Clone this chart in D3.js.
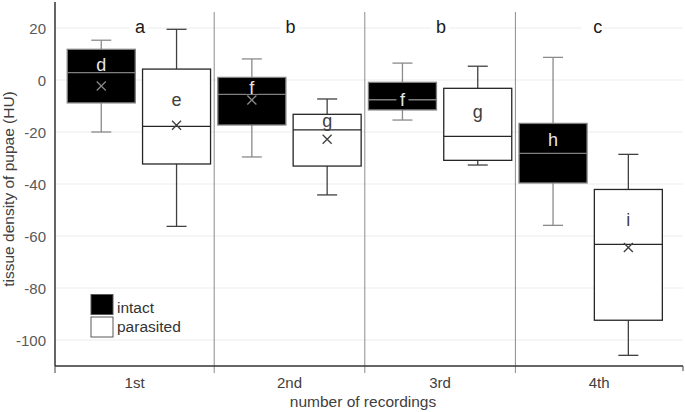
<!DOCTYPE html>
<html>
<head>
<meta charset="utf-8">
<script src="https://cdn.jsdelivr.net/npm/d3@7"></script>
<style>
  body { margin: 0; background: #fff; }
  text { font-family: "Liberation Sans", Arial, sans-serif; }
</style>
</head>
<body>
<div id="chart"></div>
<script>
// data
const categories = ["1st", "2nd", "3rd", "4th"];
const series = ["intact", "parasited"];
const groupLetters = ["a", "b", "b", "c"];
const yTicks = [20, 0, -20, -40, -60, -80, -100];

const intactMin = [-20, -29.6, -15.4, -55.9];
const intactQ1 = [-8.8, -17.3, -11.5, -39.6];
const intactMedian = [2.8, -5.5, -7.6, -28.2];
const intactQ3 = [11.8, 1.0, -0.9, -16.7];
const intactMax = [15.3, 8.1, 6.5, 8.7];
const intactMean = [-2.3, -7.7, -7.4, -23.5];
const intactLetters = ["d", "f", "f", "h"];
const intactLetterAt = [5.8, -2.9, -7.6, -23.1];

const parasitedMin = [-56.3, -44.2, -32.7, -105.9];
const parasitedQ1 = [-32.3, -33.1, -30.9, -92.4];
const parasitedMedian = [-17.8, -19.2, -21.7, -63.2];
const parasitedQ3 = [4.2, -13.2, -3.2, -42.1];
const parasitedMax = [19.5, -7.3, 5.3, -28.6];
const parasitedMean = [-17.4, -22.8, -12.3, -64.4];
const parasitedLetters = ["e", "g", "g", "i"];
const parasitedLetterAt = [-7.5, -15.8, -12.3, -53.8];

drawLines = (g, lines) => {
    g.selectAll(null).data(lines).enter().append("line")
    .attr("x1", d => d[0]).attr("y1", d => d[1]).attr("x2", d => d[2]).attr("y2", d => d[3])
    .attr("stroke", d => d[4]).attr("stroke-width", d => d[5]);
}
drawTexts = (g, texts) => {
    g.selectAll(null).data(texts).enter().append("text")
    .attr("x", d => d[0]).attr("y", d => d[1]).attr("fill", d => d[2])
    .attr("font-size", d => d[3]).attr("text-anchor", d => d[5] || "middle")
    .attr("dominant-baseline", "central").text(d => d[4]);
}

const width = 685, height = 412;
const svg = d3.select("#chart").append("svg").attr("width", width).attr("height", height);

// scales
const axisLeft = 55, axisRight = 683;
const y = d3.scaleLinear().domain([-110, 30]).range([366, 2]);
const x = d3.scaleBand().domain(categories).range([63.6, 666]).paddingInner(0).paddingOuter(0);
const xs = d3.scaleBand().domain(series).range([0, x.bandwidth()]).paddingInner(0.1).paddingOuter(0.05);
const boxW = 68, capW = 20;

// grid
let lines = [];
yTicks.forEach(t => lines.push([axisLeft, y(t), axisRight, y(t), "#ececec", 1]));
drawLines(svg.append("g"), lines);

// category separators + ticks
const bounds = [axisLeft].concat(categories.slice(1).map(c => x(c))).concat([axisRight]);
lines = [];
categories.slice(1).forEach(c => lines.push([x(c), 12, x(c), 373, "#8c8c8c", 1]));
lines.push([axisLeft, y(-110), axisLeft, 373, "#404040", 1]);
lines.push([axisRight, y(-110), axisRight, 371, "#404040", 1]);
drawLines(svg.append("g"), lines);

// boxes
const stats = {
    intact: { min: intactMin, q1: intactQ1, med: intactMedian, q3: intactQ3, max: intactMax, mean: intactMean,
        letters: intactLetters, at: intactLetterAt, fill: "#000", stroke: "#7f7f7f", whisker: "#8a8a8a", mark: "#8a8a8a", label: "#e6e6e6" },
    parasited: { min: parasitedMin, q1: parasitedQ1, med: parasitedMedian, q3: parasitedQ3, max: parasitedMax, mean: parasitedMean,
        letters: parasitedLetters, at: parasitedLetterAt, fill: "#fff", stroke: "#262626", whisker: "#404040", mark: "#404040", label: "#404040" }
};

const gBox = svg.append("g");
series.forEach(s => {
    const st = stats[s];
    categories.forEach((c, i) => {
        const cx = x(c) + xs(s) + xs.bandwidth() / 2;
        let wl = [];
        wl.push([cx, y(st.max[i]), cx, y(st.q3[i]), st.whisker, 1.3]);
        wl.push([cx, y(st.q1[i]), cx, y(st.min[i]), st.whisker, 1.3]);
        wl.push([cx - capW / 2, y(st.max[i]), cx + capW / 2, y(st.max[i]), st.whisker, 1.3]);
        wl.push([cx - capW / 2, y(st.min[i]), cx + capW / 2, y(st.min[i]), st.whisker, 1.3]);
        drawLines(gBox.append("g"), wl);
        gBox.append("rect").attr("x", cx - boxW / 2).attr("y", y(st.q3[i]))
            .attr("width", boxW).attr("height", y(st.q1[i]) - y(st.q3[i]))
            .attr("fill", st.fill).attr("stroke", st.stroke).attr("stroke-width", 1.3);
        drawLines(gBox.append("g"), [[cx - boxW / 2, y(st.med[i]), cx + boxW / 2, y(st.med[i]), st.stroke, 1.3]]);
        // mean marker
        const my = y(st.mean[i]), m = 4.5;
        drawLines(gBox.append("g"), [[cx - m, my - m, cx + m, my + m, st.mark, 1.3], [cx - m, my + m, cx + m, my - m, st.mark, 1.3]]);
        // letter label with background
        const ly = y(st.at[i]);
        gBox.append("rect").attr("x", cx - 6).attr("y", ly - 6).attr("width", 12).attr("height", 12).attr("fill", st.fill);
        drawTexts(gBox.append("g"), [[cx, ly, st.label, 18, st.letters[i]]]);
    });
});

// group letters on top
const gTop = svg.append("g");
categories.forEach((c, i) => {
    const cx = x(c) + x.bandwidth() / 2;
    gTop.append("rect").attr("x", cx - 9).attr("y", y(20) - 8).attr("width", 18).attr("height", 16).attr("fill", "#fff");
    drawTexts(gTop.append("g"), [[cx + (i == 3 ? 7 : 1), y(20) - 1, "#1a1a1a", 18, groupLetters[i]]]);
});

// axes
drawLines(svg.append("g"), [[axisLeft, 2, axisLeft, y(-110), "#333", 1.5], [axisLeft, y(-110), axisRight, y(-110), "#333", 1.5]]);
let texts = [];
yTicks.forEach(t => texts.push([46, y(t), "#595959", 15, t, "end"]));
categories.forEach((c, i) => texts.push([(bounds[i] + bounds[i + 1]) / 2, 382, "#404040", 15, c]));
texts.push([363, 401, "#404040", 15.5, "number of recordings"]);
drawTexts(svg.append("g"), texts);
svg.append("text").attr("transform", "translate(8," + (y(-40) + 5) + ") rotate(-90)")
    .attr("text-anchor", "middle").attr("dominant-baseline", "central")
    .attr("fill", "#404040").attr("font-size", 15.5).text("tissue density of pupae (HU)");

// legend
const leg = svg.append("g");
series.forEach((s, i) => {
    leg.append("rect").attr("x", 91).attr("y", 294.5 + i * 22.5).attr("width", 22).attr("height", 20)
        .attr("fill", stats[s].fill).attr("stroke", "#595959").attr("stroke-width", 1);
    drawTexts(leg.append("g"), [[117, 307 + i * 19, "#333", 15.5, s, "start"]]);
});
</script>
</body>
</html>
